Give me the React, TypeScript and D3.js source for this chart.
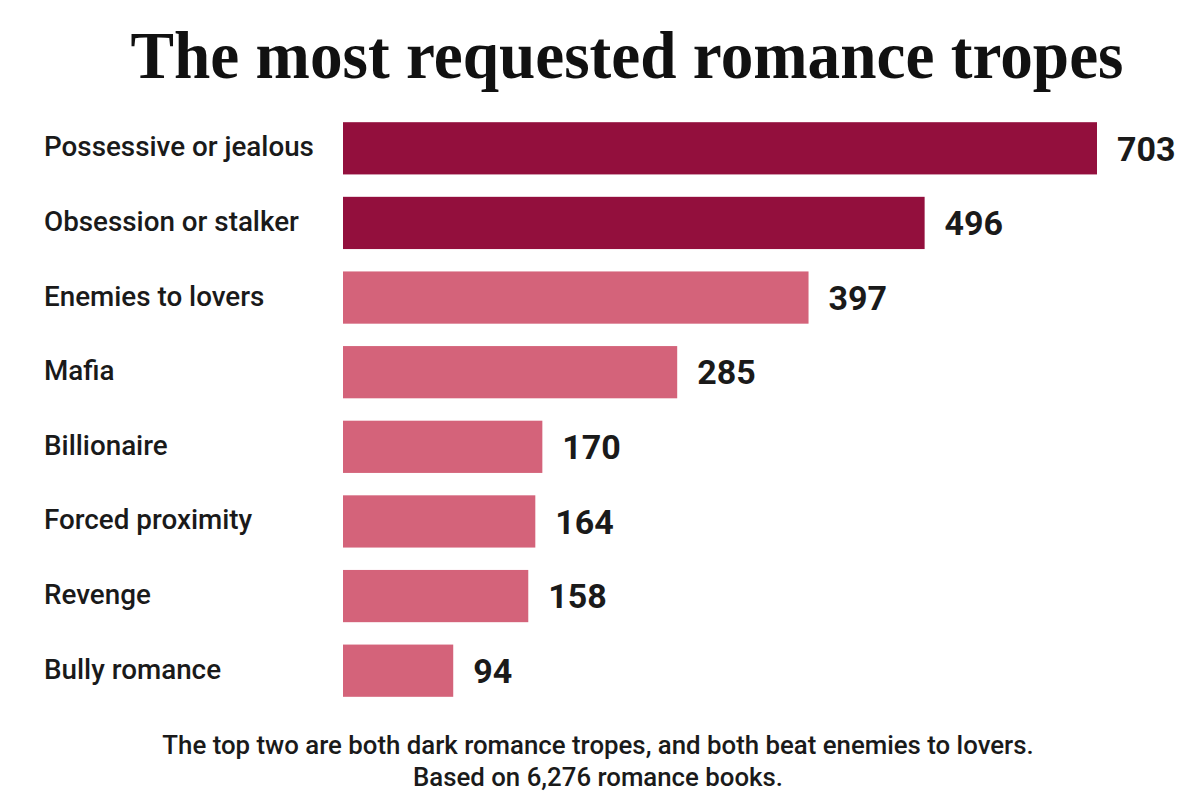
import React from "react";
import * as d3 from "d3";

const categories = [
  "Possessive or jealous",
  "Obsession or stalker",
  "Enemies to lovers",
  "Mafia",
  "Billionaire",
  "Forced proximity",
  "Revenge",
  "Bully romance",
];
const values = [703, 496, 397, 285, 170, 164, 158, 94];
const highlighted = [true, true, false, false, false, false, false, false];
const title = "The most requested romance tropes";
const notes = [
  "The top two are both dark romance tropes, and both beat enemies to lovers.",
  "Based on 6,276 romance books.",
];

const W = 1200;
const H = 800;

export default function App() {
  const x = d3.scaleLinear().domain([0, 643]).range([343, 1097]).clamp(true);
  const y = d3
    .scaleBand<string>()
    .domain(categories)
    .range([111, 708])
    .paddingInner(0.3)
    .paddingOuter(0.15);

  const dark = "#930f3d";
  const light = "#d4637a";
  const sans = "Roboto, 'Noto Sans', sans-serif";

  return (
    <svg
      width={W}
      height={H}
      viewBox={`0 0 ${W} ${H}`}
      style={{ position: "absolute", left: 0, top: 0, background: "#fff" }}
    >
      <rect x={0} y={0} width={W} height={H} fill="#fff" />
      <text
        x={627}
        y={78}
        textAnchor="middle"
        fontFamily="'Liberation Serif', 'DejaVu Serif', serif"
        fontWeight={700}
        fontSize={67}
        fill="#111"
        textLength={993}
        lengthAdjust="spacingAndGlyphs"
      >
        {title}
      </text>
      {categories.map((c, i) => {
        const yy = y(c)!;
        const bw = y.bandwidth();
        const xe = x(values[i]);
        return (
          <g key={c}>
            <text
              x={44}
              y={yy + bw / 2 - 2}
              dy="0.36em"
              fontFamily={sans}
              fontWeight={500}
              fontSize={27.8}
              fill="#1a1a1a"
            >
              {c}
            </text>
            <rect
              x={x(0)}
              y={yy}
              width={xe - x(0)}
              height={bw}
              fill={highlighted[i] ? dark : light}
            />
            <text
              x={xe + 20}
              y={yy + bw / 2}
              dy="0.36em"
              fontFamily={sans}
              fontWeight={700}
              fontSize={34}
              fill="#1a1a1a"
            >
              {values[i]}
            </text>
          </g>
        );
      })}
      {notes.map((n, i) => (
        <text
          key={i}
          x={598}
          y={754 + i * 32}
          textAnchor="middle"
          fontFamily={sans}
          fontWeight={500}
          fontSize={25.8}
          fill="#1a1a1a"
        >
          {n}
        </text>
      ))}
    </svg>
  );
}
